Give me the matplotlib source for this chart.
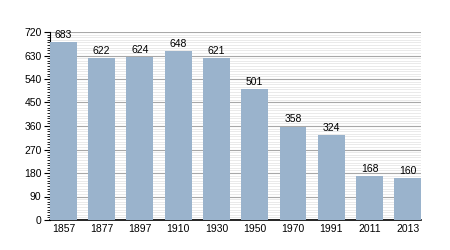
import matplotlib
matplotlib.use("Agg")
import matplotlib.pyplot as plt
from matplotlib.ticker import MultipleLocator

years = ["1857", "1877", "1897", "1910", "1930", "1950", "1970", "1991", "2011", "2013"]
population = [683, 622, 624, 648, 621, 501, 358, 324, 168, 160]

BAR = "#9ab3cc"

plt.rcParams.update({"font.family": ["Liberation Sans", "DejaVu Sans"], "font.size": 7.5})
fig = plt.figure(figsize=(4.5, 2.5), dpi=100)
ax = fig.add_axes([0.111, 0.12, 0.825, 0.752])

x = range(len(years))
bars = ax.bar(x, population, 0.7, color=BAR, zorder=3)
for b, v in zip(bars, population):
    ax.text(b.get_x() + b.get_width() / 2, v + 8, str(v),
            ha="center", va="bottom", fontsize=7.5, zorder=4)

ax.set_xlim(-0.35, len(years) - 0.65)
ax.set_ylim(0, 720)
ax.set_xticks(list(x))
ax.set_xticklabels(years)
ax.yaxis.set_major_locator(MultipleLocator(90))
ax.yaxis.set_minor_locator(MultipleLocator(10))
ax.grid(axis="y", which="major", color="#a8a8a8", linewidth=0.8, zorder=1)
ax.grid(axis="y", which="minor", color="#e6e6e6", linewidth=0.6, zorder=0)
ax.tick_params(axis="x", length=0, pad=3)
ax.tick_params(axis="y", which="major", length=4, width=0.8, pad=2)
ax.tick_params(axis="y", which="minor", length=2, width=0.6)
for s in ("top", "right"):
    ax.spines[s].set_visible(False)
ax.spines["left"].set_linewidth(0.8)
ax.spines["bottom"].set_linewidth(1.2)

fig.savefig("out.png", dpi=100)
